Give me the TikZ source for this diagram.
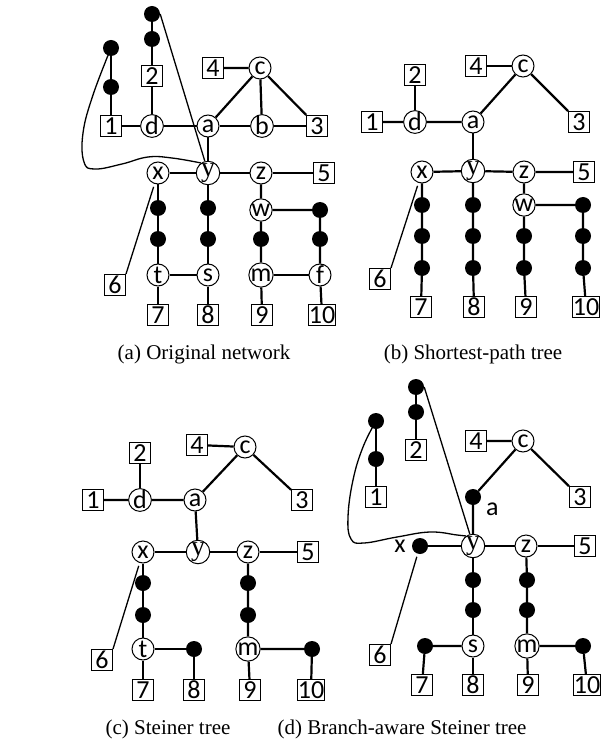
\documentclass[tikz,border=0pt]{standalone}
\usepackage{fontspec}
\setmainfont{Liberation Serif}
\newfontfamily\lblfont{Carlito}
\usepackage{tikz}
\usetikzlibrary{positioning, calc}

\begin{document}
\begin{tikzpicture}[x=1pt, y=-1pt,
    rt/.style={draw, circle, line width=1pt, fill=white, minimum size=22pt, inner sep=0pt, font=\lblfont\fontsize{26}{26}\selectfont},
    rty/.style={rt, font=\rmfamily\fontsize{28}{28}\selectfont},
    term/.style={draw, rectangle, line width=1pt, fill=white, minimum width=21pt, minimum height=21pt, inner sep=0.5pt, font=\lblfont\fontsize{26}{26}\selectfont},
    dot/.style={circle, fill=black, minimum size=16pt, inner sep=0pt},
    tag/.style={inner sep=0pt, font=\lblfont\fontsize{26}{26}\selectfont},
    link/.style={line width=2.2pt},
    lasso/.style={line width=1.3pt},
    subcap/.style={font=\fontsize{21}{21}\selectfont}
]
    \useasboundingbox (0,0) rectangle (610,743);

    % (a)
    \node[dot] (kA1) at (111,48) {};
    \node[dot] (kA2) at (111,87) {};
    \node[term] (n1A) at (111,126) {1};
    \node[dot] (kA3) at (152,14) {};
    \node[dot] (kA4) at (152,39) {};
    \node[term] (n2A) at (152,76) {2};
    \node[rt] (dA) at (152,126) {d};
    \node[rt] (aA) at (208,126) {a};
    \node[rt] (bA) at (262,126) {b};
    \node[term] (n3A) at (317,126) {3};
    \node[rt] (cA) at (260,68) {c};
    \node[term] (n4A) at (213,68) {4};
    \node[rt] (xA) at (158,173) {x};
    \node[rty] (yA) at (208,173) {y};
    \node[rt] (zA) at (261,173) {z};
    \node[term] (n5A) at (324,173) {5};
    \node[dot] (kA5) at (158,208) {};
    \node[dot] (kA6) at (158,239) {};
    \node[rt] (tA) at (158,275) {t};
    \node[dot] (kA7) at (208,208) {};
    \node[dot] (kA8) at (208,239) {};
    \node[rt] (sA) at (208,275) {s};
    \node[rt] (wA) at (261,210) {w};
    \node[dot] (kA9) at (261,239) {};
    \node[rt] (mA) at (261,275) {m};
    \node[dot] (kA10) at (320,210) {};
    \node[dot] (kA11) at (320,239) {};
    \node[rt] (fA) at (320,275) {f};
    \node[term] (n6A) at (115,285) {6};
    \node[term] (n7A) at (158,315) {7};
    \node[term] (n8A) at (208,315) {8};
    \node[term] (n9A) at (262,315) {9};
    \node[term] (n10A) at (322,315) {10};

    \draw[link] (kA1) -- (kA2) -- (n1A) -- (dA) -- (aA) -- (bA) -- (n3A);
    \draw[link] (kA3) -- (kA4) -- (n2A) -- (dA);
    \draw[link] (n4A) -- (cA) -- (aA);
    \draw[link] (cA) -- (bA);
    \draw[link] (cA) -- (n3A);
    \draw[link] (aA) -- (yA);
    \draw[link] (xA) -- (yA) -- (zA) -- (n5A);
    \draw[link] (xA) -- (kA5) -- (kA6) -- (tA) -- (n7A);
    \draw[link] (tA) -- (sA);
    \draw[link] (yA) -- (kA7) -- (kA8) -- (sA) -- (n8A);
    \draw[link] (zA) -- (wA) -- (kA9) -- (mA) -- (n9A);
    \draw[link] (wA) -- (kA10) -- (kA11) -- (fA) -- (n10A);
    \draw[link] (mA) -- (fA);
    \draw[lasso, shorten >=3pt] (n6A.north east) -- (xA);
    \draw[lasso] (kA3.east) -- (yA.105);
    \draw[lasso] plot[smooth, tension=0.7] coordinates {(kA1) (93,95) (83,133) (84,162) (95,169) (122,164) (148,157) (172,158) (yA.125)};

    % (b)
    \node[term] (n2B) at (415,75) {2};
    \node[term] (n1B) at (372,122) {1};
    \node[rt] (dB) at (415,122) {d};
    \node[rt] (aB) at (473,122) {a};
    \node[rt] (cB) at (523,66) {c};
    \node[term] (n4B) at (476,66) {4};
    \node[term] (n3B) at (579,122) {3};
    \node[rt] (xB) at (422,172) {x};
    \node[rty] (yB) at (473,171) {y};
    \node[rt] (zB) at (524,172) {z};
    \node[term] (n5B) at (584,172) {5};
    \node[dot] (kB1) at (422,205) {};
    \node[dot] (kB2) at (422,236) {};
    \node[dot] (kB3) at (422,268) {};
    \node[dot] (kB4) at (473,205) {};
    \node[dot] (kB5) at (473,236) {};
    \node[dot] (kB6) at (473,268) {};
    \node[rt] (wB) at (524,205) {w};
    \node[dot] (kB7) at (524,236) {};
    \node[dot] (kB8) at (524,268) {};
    \node[dot] (kB9) at (583,205) {};
    \node[dot] (kB10) at (583,236) {};
    \node[dot] (kB11) at (583,268) {};
    \node[term] (n6B) at (380,279) {6};
    \node[term] (n7B) at (421,307) {7};
    \node[term] (n8B) at (474,307) {8};
    \node[term] (n9B) at (526,307) {9};
    \node[term] (n10B) at (586,307) {10};

    \draw[link] (n1B) -- (dB) -- (aB) -- (cB) -- (n3B);
    \draw[link] (n2B) -- (dB);
    \draw[link] (n4B) -- (cB);
    \draw[link] (aB) -- (yB);
    \draw[link] (xB) -- (yB) -- (zB) -- (n5B);
    \draw[link] (xB) -- (kB1) -- (kB2) -- (kB3) -- (n7B);
    \draw[link] (yB) -- (kB4) -- (kB5) -- (kB6) -- (n8B);
    \draw[link] (zB) -- (wB) -- (kB7) -- (kB8) -- (n9B);
    \draw[link] (wB) -- (kB9) -- (kB10) -- (kB11) -- (n10B);
    \draw[lasso, shorten >=3pt] (n6B.north east) -- (xB);

    % (c)
    \node[term] (n2C) at (140,453) {2};
    \node[term] (n1C) at (93,500) {1};
    \node[rt] (dC) at (140,500) {d};
    \node[rt] (aC) at (195,500) {a};
    \node[rt] (cC) at (245,447) {c};
    \node[term] (n4C) at (197,445) {4};
    \node[term] (n3C) at (302,500) {3};
    \node[rt] (xC) at (143,552) {x};
    \node[rty] (yC) at (198,552) {y};
    \node[rt] (zC) at (248,552) {z};
    \node[term] (n5C) at (308,552) {5};
    \node[dot] (kC1) at (143,583) {};
    \node[dot] (kC2) at (143,615) {};
    \node[rt] (tC) at (143,649) {t};
    \node[dot] (kC3) at (194,649) {};
    \node[dot] (kC4) at (248,583) {};
    \node[dot] (kC5) at (248,615) {};
    \node[rt] (mC) at (248,649) {m};
    \node[dot] (kC6) at (312,649) {};
    \node[term] (n6C) at (102,660) {6};
    \node[term] (n7C) at (143,690) {7};
    \node[term] (n8C) at (194,690) {8};
    \node[term] (n9C) at (250,690) {9};
    \node[term] (n10C) at (311,690) {10};

    \draw[link] (n1C) -- (dC) -- (aC) -- (cC) -- (n3C);
    \draw[link] (n2C) -- (dC);
    \draw[link] (n4C) -- (cC);
    \draw[link] (aC) -- (yC);
    \draw[link] (xC) -- (yC) -- (zC) -- (n5C);
    \draw[link] (xC) -- (kC1) -- (kC2) -- (tC) -- (n7C);
    \draw[link] (tC) -- (kC3) -- (n8C);
    \draw[link] (zC) -- (kC4) -- (kC5) -- (mC) -- (n9C);
    \draw[link] (mC) -- (kC6) -- (n10C);
    \draw[lasso, shorten >=3pt] (n6C.north east) -- (xC);

    % (d)
    \node[dot] (kD1) at (376,421) {};
    \node[dot] (kD2) at (376,459) {};
    \node[term] (n1D) at (376,497) {1};
    \node[dot] (kD3) at (416,387) {};
    \node[dot] (kD4) at (416,412) {};
    \node[term] (n2D) at (416,450) {2};
    \node[term] (n4D) at (476,441) {4};
    \node[rt] (cD) at (523,441) {c};
    \node[term] (n3D) at (580,497) {3};
    \node[dot] (aD) at (473,497) {};
    \node[tag, below right=0pt and 7pt of aD] (la) {a};
    \node[rty] (yD) at (473,546) {y};
    \node[rt] (zD) at (526,546) {z};
    \node[term] (n5D) at (585,546) {5};
    \node[dot] (xD) at (420,546) {};
    \node[tag, left=6pt of xD] (lx) {x};
    \node[dot] (kD5) at (473,580) {};
    \node[dot] (kD6) at (473,610) {};
    \node[rt] (sD) at (473,646) {s};
    \node[dot] (kD7) at (425,646) {};
    \node[dot] (kD8) at (527,580) {};
    \node[dot] (kD9) at (527,610) {};
    \node[rt] (mD) at (527,646) {m};
    \node[dot] (kD10) at (583,646) {};
    \node[term] (n6D) at (380,655) {6};
    \node[term] (n7D) at (422,685) {7};
    \node[term] (n8D) at (473,685) {8};
    \node[term] (n9D) at (528,685) {9};
    \node[term] (n10D) at (587,685) {10};

    \draw[link] (kD1) -- (kD2) -- (n1D);
    \draw[link] (kD3) -- (kD4) -- (n2D);
    \draw[link] (n4D) -- (cD) -- (n3D);
    \draw[link] (cD) -- (aD) -- (yD);
    \draw[link] (xD) -- (yD) -- (zD) -- (n5D);
    \draw[link] (yD) -- (kD5) -- (kD6) -- (sD) -- (n8D);
    \draw[link] (sD) -- (kD7) -- (n7D);
    \draw[link] (zD) -- (kD8) -- (kD9) -- (mD) -- (n9D);
    \draw[link] (mD) -- (kD10) -- (n10D);
    \draw[lasso, shorten >=3pt] (n6D.north east) -- (xD);
    \draw[lasso] (kD3.east) -- (yD.105);
    \draw[lasso] plot[smooth, tension=0.7] coordinates {(kD1) (363,447) (353,480) (348,517) (351,539) (364,543) (397,537) (430,532) (457,535) (yD.125)};

    \node[subcap] (capA) at (204,354) {(a) Original network};
    \node[subcap] (capB) at (473,354) {(b) Shortest-path tree};
    \node[subcap] (capC) at (168,729) {(c) Steiner tree};
    \node[subcap] (capD) at (402,729) {(d) Branch-aware Steiner tree};
\end{tikzpicture}
\end{document}
